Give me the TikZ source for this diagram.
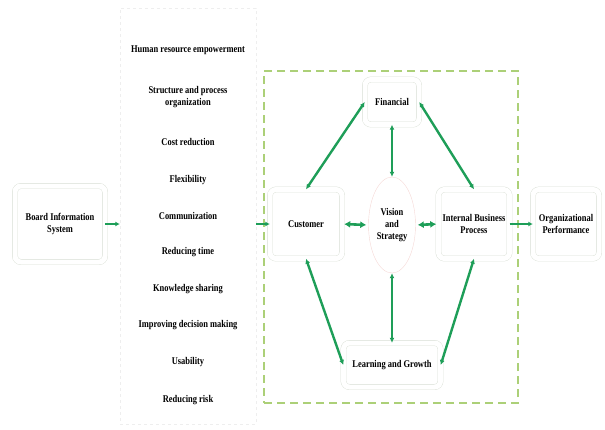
\documentclass[tikz,border=0pt]{standalone}
\usepackage{fontspec}
\setmainfont[FakeStretch=0.82]{Liberation Serif}
\usetikzlibrary{arrows.meta,shapes.geometric}
\definecolor{ArrowGreen}{RGB}{30,158,88}
\definecolor{FrameGreen}{RGB}{172,208,120}
\definecolor{BoxGray}{RGB}{216,222,212}
\definecolor{ListGray}{RGB}{238,238,238}

\begin{document}
\begin{tikzpicture}[x=1pt,y=-1pt,
    font=\fontsize{10.3}{11.8}\selectfont\bfseries,
    bscbox/.style={draw=BoxGray, thin, double=white, double distance=5pt,
        rounded corners=6pt, align=center, inner sep=1pt},
    link/.style={{Latex[length=5pt,width=5pt]}-{Latex[length=5pt,width=5pt]},
        ArrowGreen, line width=2.4pt},
    thinlink/.style={link, line width=1.6pt},
    shortlink/.style={{Latex[length=6pt,width=7pt]}-{Latex[length=6pt,width=7pt]},
        ArrowGreen, line width=2.6pt, shorten <=2pt, shorten >=2pt},
    flow/.style={-{Latex[length=4.5pt,width=5pt]}, ArrowGreen, line width=1.6pt}]
    % Page size
    \useasboundingbox (0,0) rectangle (605,429);

    % Frames
    \node[draw=ListGray, dashed, minimum width=136pt, minimum height=416pt] (benefits) at (188,216) {};
    \node[draw=FrameGreen, line width=1.1pt, dash pattern=on 8pt off 5pt,
          minimum width=254pt, minimum height=332pt] (bsc) at (391,237) {};

    % Benefit list
    \foreach \y/\txt [count=\k] in {50/Human resource empowerment,
        97/{Structure and process\\organization}, 142/Cost reduction,
        180/Flexibility, 216/Communization, 252/Reducing time,
        289/Knowledge sharing, 325/Improving decision making,
        362/Usability, 400/Reducing risk} {
        \node[align=center] (item\k) at (188,\y) {\txt};
    }

    % Boxes
    \node[bscbox, minimum width=90pt, minimum height=76pt] (board) at (60,224) {Board Information\\System};
    \node[bscbox, minimum width=72pt, minimum height=69pt] (customer) at (306,224) {Customer};
    \node[bscbox, minimum width=54pt, minimum height=45pt] (financial) at (392,102) {Financial};
    \node[bscbox, minimum width=71pt, minimum height=69pt] (internal) at (474,224) {Internal Business\\Process};
    \node[bscbox, minimum width=66pt, minimum height=69pt] (org) at (566,224) {Organizational\\Performance};
    \node[bscbox, minimum width=97pt, minimum height=44pt] (learning) at (392,365) {Learning and Growth};
    \node[ellipse, draw=BoxGray!70!red!40, thin, minimum width=47pt, minimum height=96pt,
          inner sep=0pt, align=center] (vision) at (392,225) {Vision\\and\\Strategy};

    % Flow arrows
    \draw[flow] (board.east) -- (board.east -| benefits.west);
    \draw[flow] (benefits.east |- customer.west) -- (customer.west);
    \draw[flow] (internal.east) -- (org.west);

    % Links
    \draw[link] (customer.north) -- (financial.west);
    \draw[link] (financial.east) -- (internal.north);
    \draw[link] (customer.south) -- (learning.west);
    \draw[link] (internal.south) -- (learning.east);
    \draw[shortlink] (customer.east) -- (vision.west);
    \draw[shortlink] (vision.east) -- (internal.west);
    \draw[thinlink] (financial.south) -- (vision.north);
    \draw[thinlink] (vision.south) -- (learning.north);
\end{tikzpicture}
\end{document}
